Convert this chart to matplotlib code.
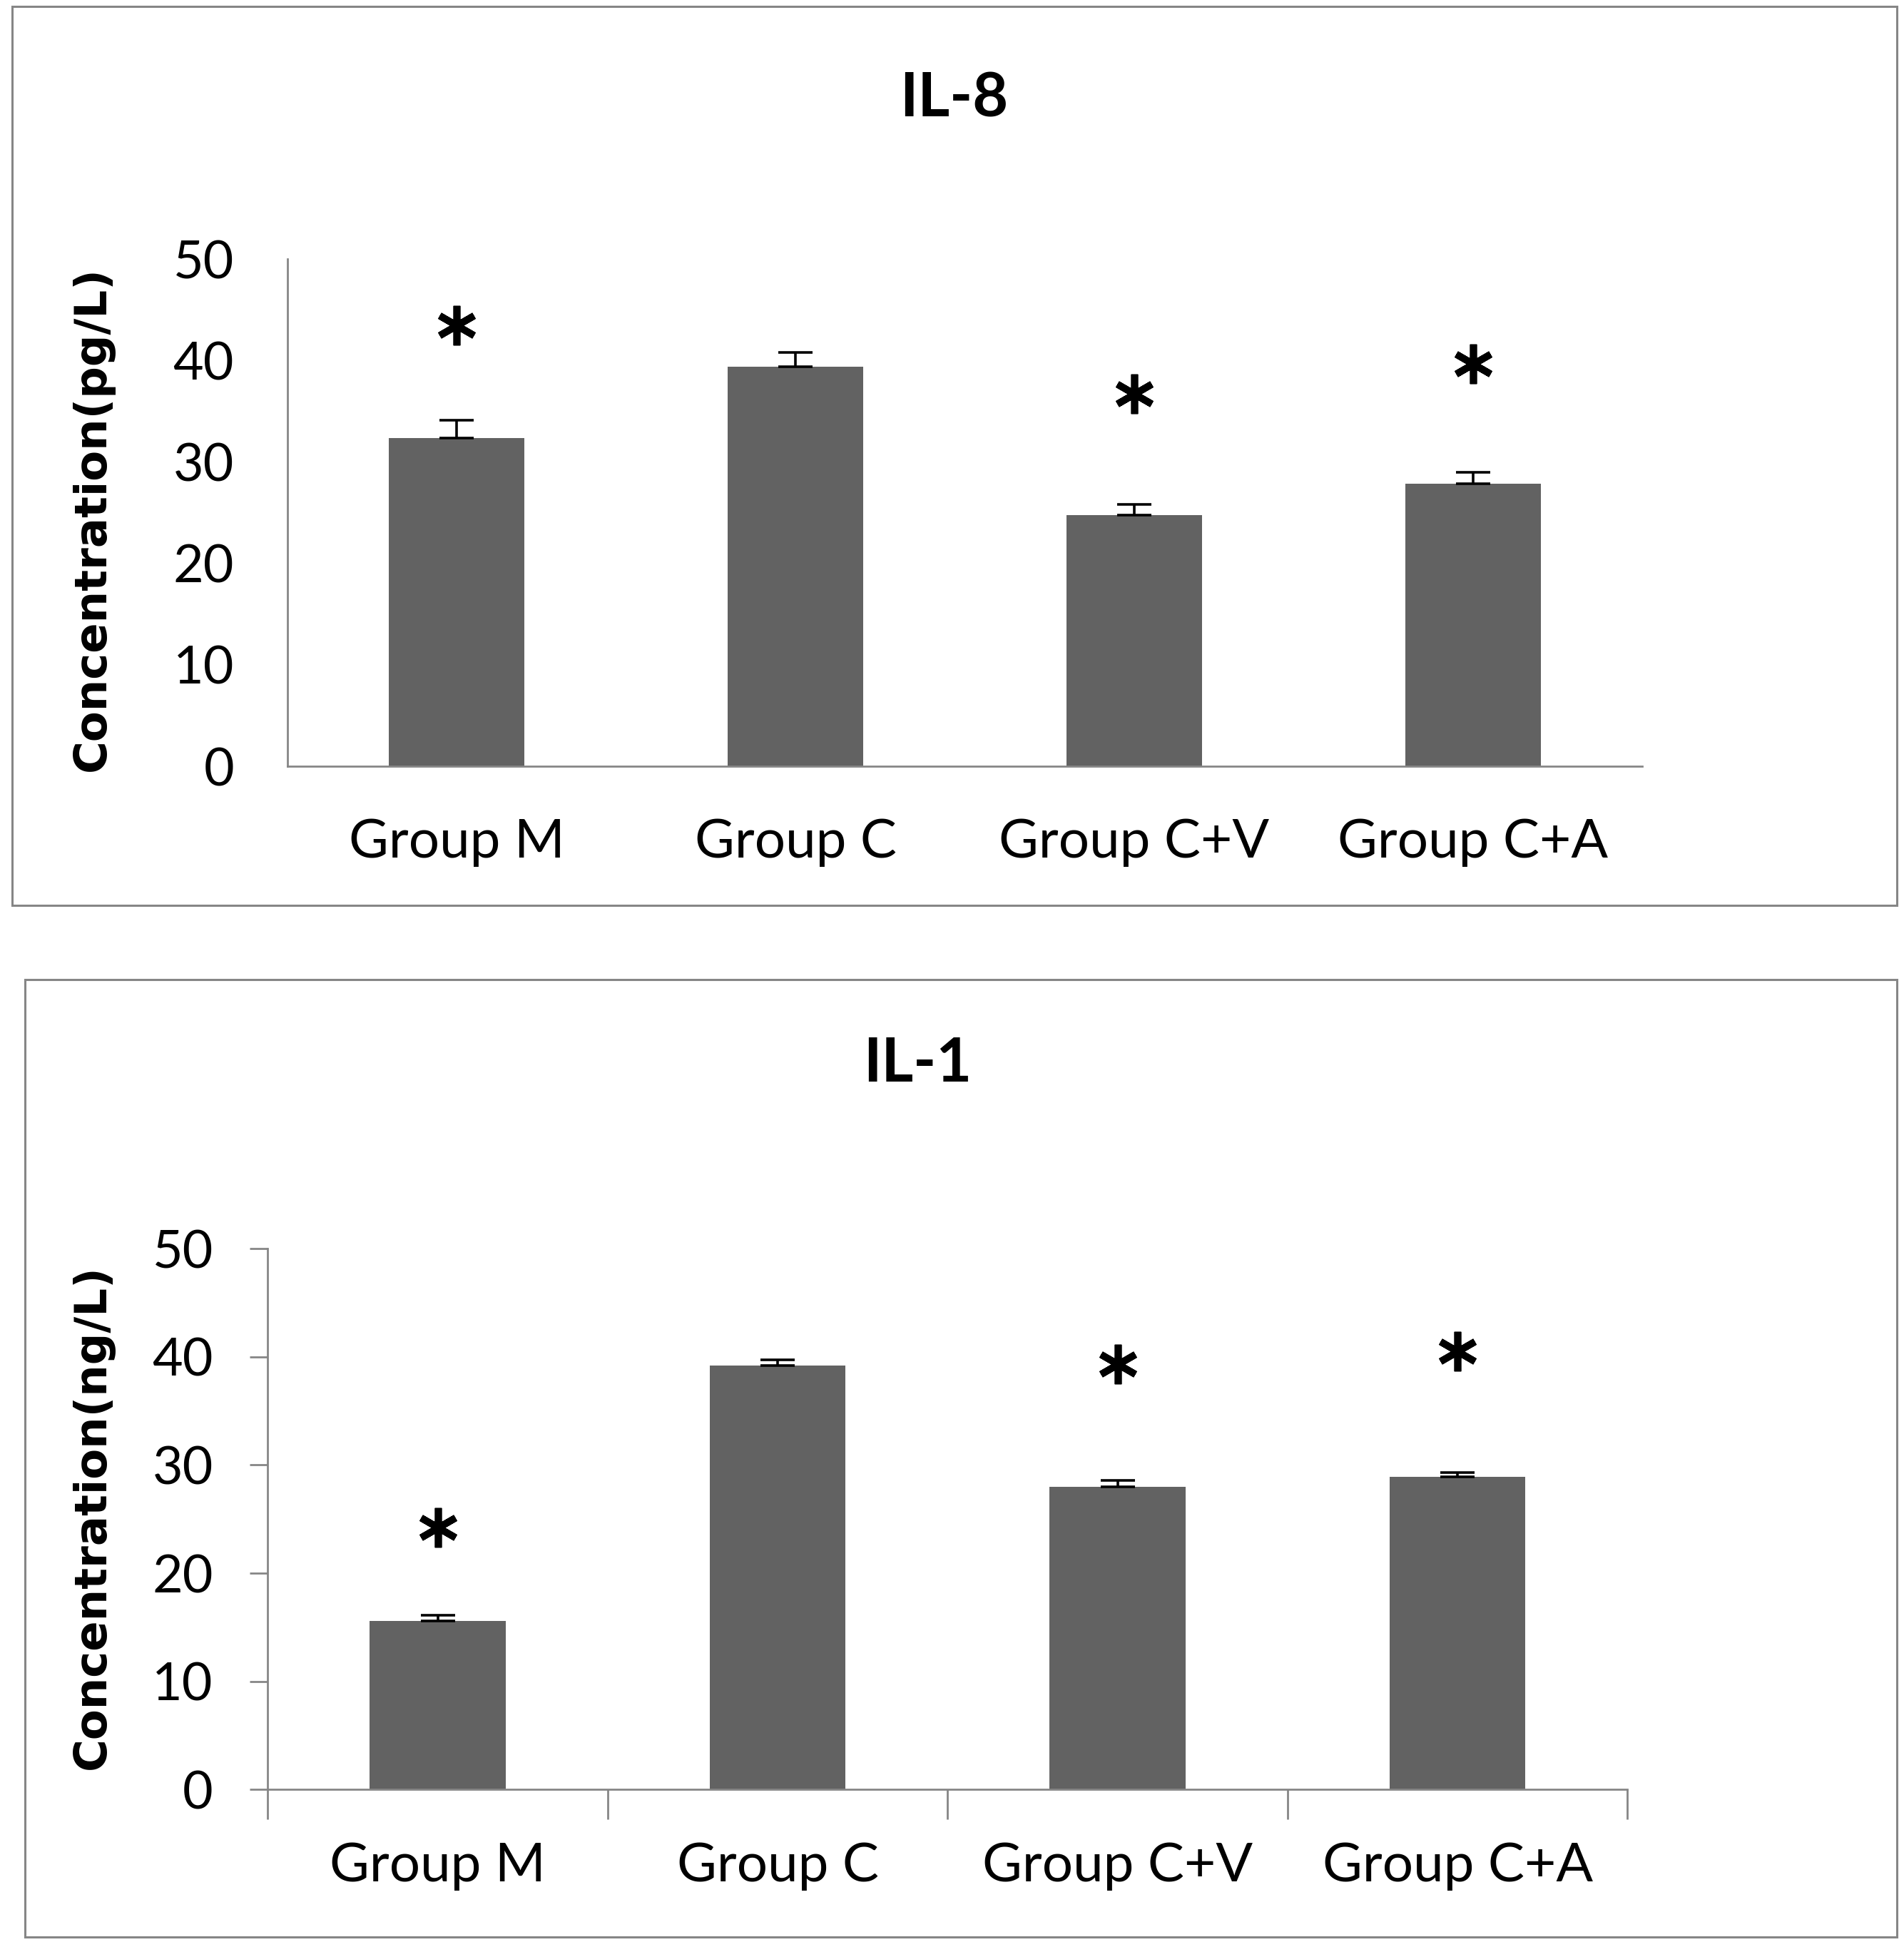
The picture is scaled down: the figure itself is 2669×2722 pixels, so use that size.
import numpy as np
import matplotlib
matplotlib.use("Agg")
import matplotlib.pyplot as plt
from matplotlib.patches import Rectangle

plt.rcParams['font.family'] = ['Lato', 'DejaVu Sans']

groups = ['Group M', 'Group C', 'Group C+V', 'Group C+A']

# IL-8 (pg/L)
il8_mean = [32.4, 39.4, 24.8, 27.9]
il8_err = [1.7, 1.4, 1.0, 1.1]
il8_star = [43.5, None, 36.7, 39.7]

# IL-1 (ng/L)
il1_mean = [15.6, 39.2, 28.0, 28.9]
il1_err = [0.5, 0.5, 0.6, 0.4]
il1_star = [24.2, None, 39.3, 40.5]

bar_col = '#626262'
axis_col = '#868686'

fig = plt.figure(figsize=(26.69, 27.22), dpi=100)

# panel frames
for (x0, y0, w, h) in [(0.0065, 0.5338, 0.9896, 0.4630), (0.0130, 0.0026, 0.9831, 0.4929)]:
    fig.patches.append(Rectangle((x0, y0), w, h, transform=fig.transFigure,
                                 fill=False, edgecolor=axis_col, linewidth=2.2))


def panel(rect, means, errs, stars, title, ylab, title_xy, ylab_xy, ticks):
    ax = fig.add_axes(rect)
    x = np.arange(len(groups))
    ax.bar(x, means, width=0.4, color=bar_col, zorder=2)
    ax.errorbar(x, means, yerr=[np.zeros(len(errs)), errs], fmt='none',
                ecolor='black', elinewidth=2.6, capsize=17, capthick=2.6, zorder=3)
    sx = [xi for xi, s in zip(x, stars) if s is not None]
    sy = [s for s in stars if s is not None]
    ax.plot(sx, sy, linestyle='none', marker=(6, 2, 0), markersize=40,
            markeredgewidth=7, color='black', zorder=4)
    ax.set_xlim(-0.5, 3.5)
    ax.set_ylim(0, 50)
    ax.set_yticks(range(0, 51, 10))
    for sp in ['top', 'right']:
        ax.spines[sp].set_visible(False)
    for sp in ['left', 'bottom']:
        ax.spines[sp].set_color(axis_col)
        ax.spines[sp].set_linewidth(2.0)
    ax.set_xticks(x)
    ax.set_xticklabels(groups, fontsize=55)
    ax.tick_params(axis='x', length=0, pad=52)
    ax.tick_params(axis='y', labelsize=53, pad=54 if not ticks else 37,
                   length=0 if not ticks else 18, width=2.0, color=axis_col)
    if ticks:
        ax.set_xticks(np.arange(-0.5, 4.0, 1.0), minor=True)
        ax.tick_params(axis='x', which='minor', length=30, width=2.0, color=axis_col)
    fig.text(title_xy[0], title_xy[1], title, ha='center', va='center',
             fontsize=62, fontweight='bold')
    fig.text(ylab_xy[0], ylab_xy[1], ylab, ha='center', va='center', rotation=90,
             fontsize=45, fontweight='bold', family='DejaVu Sans')
    return ax


panel([0.1510, 0.6054, 0.7116, 0.2611], il8_mean, il8_err, il8_star,
      'IL-8', 'Concentration(pg/L)', (0.501, 0.949), (0.0488, 0.733), False)
panel([0.1406, 0.0785, 0.7142, 0.2785], il1_mean, il1_err, il1_star,
      'IL-1', 'Concentration(ng/L)', (0.482, 0.452), (0.0488, 0.219), True)

fig.savefig('out.png', dpi=100)
